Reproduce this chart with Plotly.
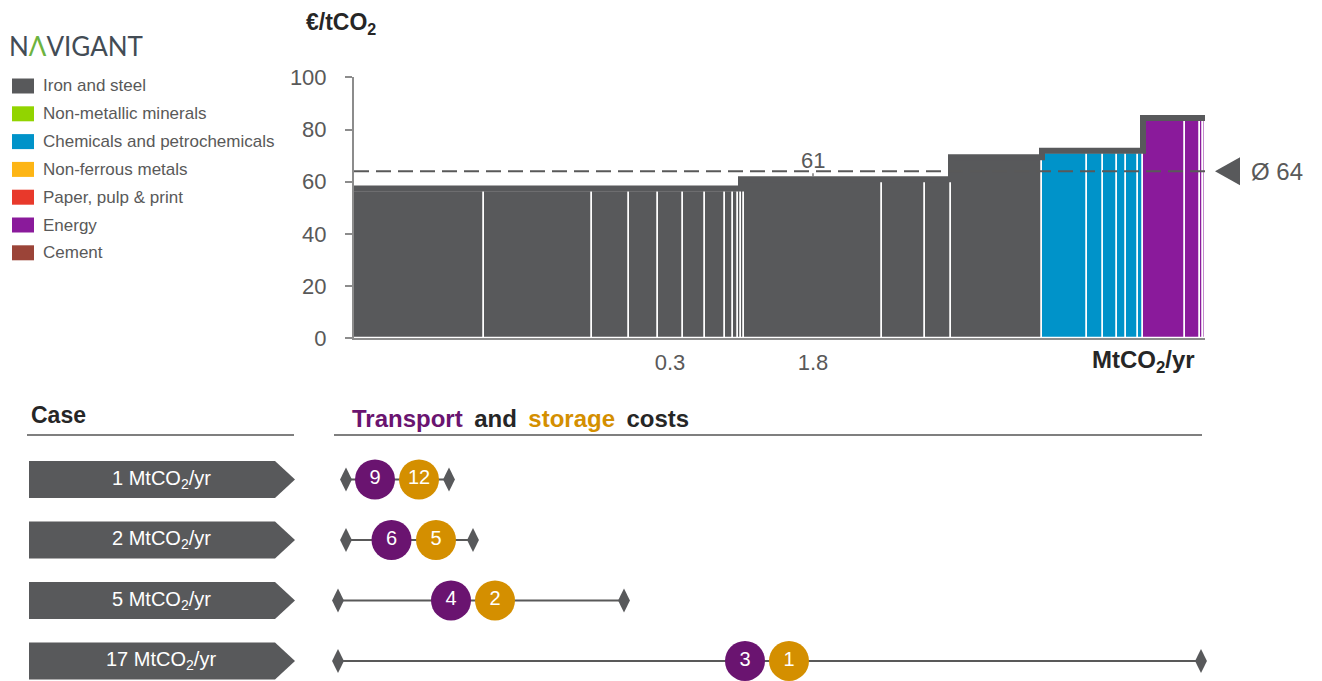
import numpy as np
import plotly.graph_objects as go

W, H = 1322, 681

# ------------------------------------------------------------------ data
SECTORS = ["Iron and steel", "Non-metallic minerals", "Chemicals and petrochemicals",
           "Non-ferrous metals", "Paper, pulp & print", "Energy", "Cement"]
SECTOR_COLORS = ["#58595B", "#92D400", "#0093C9", "#FDB515", "#E8392B", "#8A1A9B", "#9B4438"]

# plant emissions (x-width, relative units) and CCS cost (EUR/tCO2), merit order
iron_emissions = [13.0, 10.8, 3.7, 2.9, 2.5, 2.2, 2.0, 0.8, 0.5, 0.3,
                  0.3, 13.8, 4.25, 2.65, 9.1]
iron_costs = [56.5, 56.5, 56.5, 56.5, 56.5, 56.5, 56.5, 56.5, 56.5, 56.5,
              60, 60, 60, 60, 68.5]
chem_emissions = [4.5, 1.55, 1.45, 0.9, 1.15, 0.55]
chem_costs = [71, 71, 71, 71, 71, 71]
energy_emissions = [4.15, 1.5, 0.3, 0.25]
energy_costs = [83.5, 83.5, 83.5, 83.5]

AVERAGE_COST = 64
HIGHLIGHT_X = 45.9
HIGHLIGHT_LABEL = "61"
X_TICK_VALS = [31.6, 45.9]
X_TICK_TEXT = ["0.3", "1.8"]
Y_TICKS = [0, 20, 40, 60, 80, 100]

CASES = ["1 MtCO<sub>2</sub>/yr", "2 MtCO<sub>2</sub>/yr", "5 MtCO<sub>2</sub>/yr", "17 MtCO<sub>2</sub>/yr"]
case_low = [-0.8, -0.8, -1.6, -1.6]
case_high = [9.5, 11.9, 27.0, 84.7]
transport_pos = [2.1, 3.75, 9.7, 39.1]
storage_pos = [6.5, 8.2, 14.1, 43.5]
transport_cost = [9, 6, 4, 3]
storage_cost = [12, 5, 2, 1]

# ------------------------------------------------------------------ style
FONT = "Arial, Liberation Sans, sans-serif"
GREY = "#58595B"
TXT = "#595959"
DARK = "#262626"
AXC = "#8C8C8C"
PURPLE_C = "#6A1470"
ORANGE_C = "#D48F00"
CAP_OFFSET = 0.9


def px_x(p):
    return p / W


def px_y(p):
    return 1 - p / H


fig = go.Figure()

# ------------------------------------------------------------------ cost curve
groups = [(iron_emissions, iron_costs, SECTOR_COLORS[0]),
          (chem_emissions, chem_costs, SECTOR_COLORS[2]),
          (energy_emissions, energy_costs, SECTOR_COLORS[5])]
all_w = np.concatenate([np.array(g[0], float) for g in groups])
all_c = np.concatenate([np.array(g[1], float) for g in groups])
all_left = np.concatenate([[0.0], np.cumsum(all_w)[:-1]])
TOTAL = float(np.sum(all_w))

start = 0
for w, c, col in groups:
    w = np.array(w, float)
    left = all_left[start:start + len(w)]
    start += len(w)
    fig.add_trace(go.Bar(x=left + w / 2, y=c, width=w, xaxis="x", yaxis="y",
                         marker=dict(color=col, line=dict(color="white", width=1.5)),
                         hoverinfo="skip"))

# dark step outline on top of the bars
step_x = list(all_left) + [TOTAL]
step_y = list(all_c + CAP_OFFSET) + [all_c[-1] + CAP_OFFSET]
fig.add_trace(go.Scatter(x=step_x, y=step_y, mode="lines", line_shape="hv",
                         line=dict(color=GREY, width=6), xaxis="x", yaxis="y", hoverinfo="skip"))

# average line
fig.add_trace(go.Scatter(x=[0, TOTAL], y=[AVERAGE_COST, AVERAGE_COST], mode="lines",
                         line=dict(color=TXT, width=2, dash="15px,7px"),
                         xaxis="x", yaxis="y", hoverinfo="skip"))

# ------------------------------------------------------------------ transport & storage
rows = list(range(len(CASES)))
for r in rows:
    fig.add_trace(go.Scatter(x=[case_low[r], case_high[r]], y=[r, r], mode="lines+markers",
                             line=dict(color=TXT, width=2),
                             marker=dict(symbol="diamond-tall", size=17, color=GREY),
                             cliponaxis=False, xaxis="x2", yaxis="y2", hoverinfo="skip"))
fig.add_trace(go.Scatter(x=transport_pos, y=rows, mode="markers+text",
                         marker=dict(size=40, color=PURPLE_C),
                         text=[str(v) for v in transport_cost], textposition="middle center",
                         textfont=dict(color="white", size=20, family=FONT),
                         cliponaxis=False, xaxis="x2", yaxis="y2", hoverinfo="skip"))
fig.add_trace(go.Scatter(x=storage_pos, y=rows, mode="markers+text",
                         marker=dict(size=40, color=ORANGE_C),
                         text=[str(v) for v in storage_cost], textposition="middle center",
                         textfont=dict(color="white", size=20, family=FONT),
                         cliponaxis=False, xaxis="x2", yaxis="y2", hoverinfo="skip"))

shapes = []
annotations = []

# average marker (triangle) and label
tri_h = 14 / 2.61
shapes.append(dict(type="path", xref="paper", yref="y",
                   path=(f"M {px_x(1215)},{AVERAGE_COST} L {px_x(1240)},{AVERAGE_COST + tri_h} "
                         f"L {px_x(1240)},{AVERAGE_COST - tri_h} Z"),
                   fillcolor=GREY, line=dict(width=0)))
annotations.append(dict(x=px_x(1249), y=AVERAGE_COST, xref="paper", yref="y",
                        text=f"Ø {AVERAGE_COST}", showarrow=False, xanchor="left", yanchor="middle",
                        font=dict(family=FONT, size=24, color=TXT)))

# case chevrons
half = 0.306
for r, label in enumerate(CASES):
    path = (f"M {px_x(29)},{r - half} L {px_x(275)},{r - half} L {px_x(295)},{r} "
            f"L {px_x(275)},{r + half} L {px_x(29)},{r + half} Z")
    shapes.append(dict(type="path", path=path, xref="paper", yref="y2",
                       fillcolor=GREY, line=dict(width=0), layer="below"))
    annotations.append(dict(x=px_x(161), y=r, xref="paper", yref="y2", text=label,
                            showarrow=False, xanchor="center", yanchor="middle",
                            font=dict(family=FONT, size=20, color="white")))

# headers
annotations.append(dict(x=px_x(29), y=px_y(415), xref="paper", yref="paper", text="<b>Case</b>",
                        showarrow=False, xanchor="left", yanchor="middle",
                        font=dict(family=FONT, size=23, color=DARK)))
annotations.append(dict(x=px_x(350), y=px_y(418), xref="paper", yref="paper",
                        text=(f"<b><span style='color:{PURPLE_C}'>Transport</span>&#8201; and&#8201; "
                              f"<span style='color:{ORANGE_C}'>storage</span>&#8201; costs</b>"),
                        showarrow=False, xanchor="left", yanchor="middle",
                        font=dict(family=FONT, size=24, color=DARK)))
shapes.append(dict(type="line", xref="paper", yref="paper", x0=px_x(27), x1=px_x(294),
                   y0=px_y(435), y1=px_y(435), line=dict(color="#7F7F7F", width=2)))
shapes.append(dict(type="line", xref="paper", yref="paper", x0=px_x(334), x1=px_x(1202),
                   y0=px_y(435), y1=px_y(435), line=dict(color="#7F7F7F", width=2)))

# legend (built from sector list)
for i, (name, col) in enumerate(zip(SECTORS, SECTOR_COLORS)):
    cy = 86 + 27.8 * i
    shapes.append(dict(type="rect", xref="paper", yref="paper", x0=px_x(12), x1=px_x(34),
                       y0=px_y(cy + 7.5), y1=px_y(cy - 7.5), fillcolor=col, line=dict(width=0)))
    annotations.append(dict(x=px_x(41), y=px_y(cy), xref="paper", yref="paper", text=name,
                            showarrow=False, xanchor="left", yanchor="middle",
                            font=dict(family=FONT, size=17, color=TXT)))

# logo
annotations.append(dict(x=px_x(7), y=px_y(46), xref="paper", yref="paper",
                        text="N<span style='color:#6DB33F'>Λ</span>VIGANT",
                        showarrow=False, xanchor="left", yanchor="middle",
                        font=dict(family="Lato, Open Sans, sans-serif", size=26, color="#434C55", weight=400)))

# axis titles
annotations.append(dict(x=px_x(341), y=px_y(23), xref="paper", yref="paper",
                        text="<b>€/tCO<sub>2</sub></b>", showarrow=False,
                        xanchor="center", yanchor="middle",
                        font=dict(family=FONT, size=23, color=DARK)))
annotations.append(dict(x=px_x(1197), y=px_y(361), xref="paper", yref="paper",
                        text="<b>MtCO<sub>2</sub>/yr</b>", showarrow=False,
                        xanchor="right", yanchor="middle",
                        font=dict(family=FONT, size=24, color=DARK)))

# highlight label
annotations.append(dict(x=HIGHLIGHT_X, y=iron_costs[11] + 2.1, xref="x", yref="y",
                        text=HIGHLIGHT_LABEL, showarrow=True, arrowhead=0, arrowwidth=1.2,
                        arrowcolor=TXT, ax=0, ay=-16, standoff=0, borderpad=0,
                        font=dict(family=FONT, size=22, color=TXT)))

fig.update_layout(
    width=W, height=H, margin=dict(l=0, r=0, t=0, b=0, pad=0, autoexpand=False), autosize=False,
    paper_bgcolor="white", plot_bgcolor="white", showlegend=False,
    barmode="overlay", bargap=0,
    font=dict(family=FONT, color=TXT),
    xaxis=dict(domain=[px_x(354), px_x(1205)], range=[0, TOTAL], showgrid=False, zeroline=False,
               showline=True, linecolor=AXC, linewidth=2, tickvals=X_TICK_VALS, ticktext=X_TICK_TEXT,
               ticks="", tickfont=dict(size=22, color=TXT), ticklabelstandoff=3, fixedrange=True,
               automargin=False),
    yaxis=dict(domain=[px_y(338.3), px_y(77.3)], range=[0, 100], showgrid=False, zeroline=False,
               showline=True, linecolor=AXC, linewidth=2, tickvals=Y_TICKS, ticks="outside",
               ticklen=7, tickwidth=2, tickcolor=AXC, tickfont=dict(size=22, color=TXT),
               ticklabelstandoff=14, fixedrange=True, automargin=False),
    xaxis2=dict(domain=[0, 1], range=[-35.4, 96.8], visible=False, fixedrange=True, automargin=False),
    yaxis2=dict(domain=[0, px_y(449)], range=[3.331, -0.504], visible=False, fixedrange=True,
                automargin=False),
    shapes=shapes, annotations=annotations,
)

fig.write_html("out.html", config={"displayModeBar": False},
               post_script="document.body.style.margin='0';document.body.style.overflow='hidden';")
